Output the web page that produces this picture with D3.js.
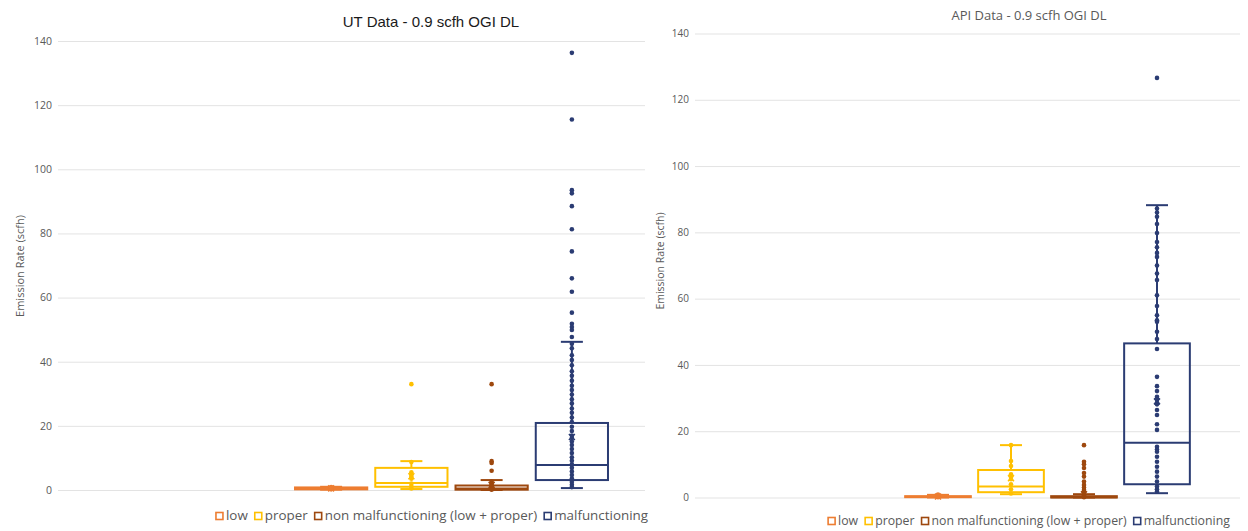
<!DOCTYPE html>
<html>
<head>
<meta charset="utf-8">
<script src="https://cdn.jsdelivr.net/npm/d3@7"></script>
<style>
  body { margin: 0; background: #fff; }
  svg { display: block; }
</style>
</head>
<body>
<svg id="chart" width="1248" height="531"></svg>
<script>
// box & whisker comparison, UT vs API, 0.9 scfh OGI detection limit

const categories = ['low', 'proper', 'non malfunctioning (low + proper)', 'malfunctioning'];
const yTicks = [0, 20, 40, 60, 80, 100, 120, 140];

// UT data (scfh)
const utWhiskerMin = [0.1, 0.3, 0.0, 0.6];
const utQ1 = [0.2, 1.0, 0.1, 3.1];
const utMedian = [0.4, 2.2, 0.5, 7.8];
const utQ3 = [0.8, 6.9, 1.4, 20.9];
const utWhiskerMax = [1.0, 9.0, 3.1, 46.2];
const utMean = [0.5, 4.3, 1.6, 16.5];
const utPointsLow = [0.2, 0.4, 0.6, 0.9];
const utPointsProper = [0.5, 1.2, 2.0, 3.5, 4.2, 4.8, 5.5, 8.7, 33.0];
const utPointsNonMalf = [0.1, 0.5, 1.0, 1.8, 2.6, 6.0, 8.4, 9.0, 33.0];
const utPointsMalf = [136.3, 115.5, 93.5, 92.5, 88.5, 81.3, 74.4, 66.0, 61.8, 55.3, 51.8, 50.8, 49.9,
  47.7, 45.6, 44.2, 42.0, 40.5, 38.9, 37.0, 35.6, 34.1, 32.5, 31.2, 29.8, 28.3, 27.0, 25.4, 24.1,
  22.6, 21.2, 19.7, 18.4, 17.0, 16.2, 15.1, 14.0, 12.8, 11.5, 10.2, 9.1, 8.0, 6.9, 5.8, 4.7, 3.6,
  2.5, 1.6, 0.9];

// API data (scfh)
const apiWhiskerMin = [0.0, 1.0, 0.0, 1.3];
const apiQ1 = [0.1, 1.6, 0.0, 4.0];
const apiMedian = [0.2, 3.3, 0.1, 16.5];
const apiQ3 = [0.4, 8.3, 0.4, 46.5];
const apiWhiskerMax = [0.8, 15.8, 1.0, 88.2];
const apiMean = [0.3, 5.8, 1.0, 29.0];
const apiPointsLow = [0.1, 0.3, 0.6, 0.9];
const apiPointsProper = [1.2, 2.5, 4.0, 5.5, 6.2, 7.0, 9.5, 11.0, 15.8];
const apiPointsNonMalf = [0.1, 0.4, 0.8, 1.5, 2.3, 3.0, 3.8, 4.8, 6.3, 7.4, 8.9, 10.0, 10.8, 15.8];
const apiPointsMalf = [126.6, 87.2, 86.0, 84.7, 82.5, 79.8, 77.1, 75.5, 73.8, 72.6, 70.0, 67.6, 65.6,
  61.0, 57.8, 55.0, 53.5, 53.0, 50.0, 47.8, 44.8, 36.4, 33.6, 32.1, 30.4, 29.6, 28.6, 28.1, 26.4,
  24.9, 22.1, 20.4, 15.3, 14.5, 13.8, 12.3, 10.8, 9.3, 7.8, 6.3, 4.8, 3.3, 2.5, 1.8];

const colors = ['#ED7D31', '#FFC000', '#9E480E', '#2B3C73'];
const gridColor = '#e3e3e3';
const textGray = '#595959';

const svg = d3.select('#chart');

function drawPanel(p) {
  const g = svg.append('g');

  const y = d3.scaleLinear().domain([0, 140]).range(p.yRange);
  const x = d3.scaleBand().domain(categories).range(p.bandRange).paddingInner(0.1).paddingOuter(0.05);

  // gridlines + tick labels
  const axis = g.append('g')
    .attr('transform', 'translate(' + p.gridX0 + ',0)')
    .call(d3.axisLeft(y).tickValues(yTicks).tickSize(-(p.gridX1 - p.gridX0)).tickPadding(6));
  axis.select('.domain').remove();
  axis.selectAll('line').attr('stroke', gridColor);
  axis.selectAll('text')
    .attr('fill', textGray)
    .style('font-family', 'Open Sans')
    .style('font-size', p.tickSize + 'px');

  // y axis title
  g.append('text')
    .attr('transform', 'translate(' + p.yLabelX + ',' + p.yLabelY + ') rotate(-90)')
    .attr('text-anchor', 'middle')
    .attr('fill', textGray)
    .style('font-family', 'Open Sans')
    .style('font-size', p.yLabelSize + 'px')
    .text('Emission Rate (scfh)');

  // chart title
  g.append('text')
    .attr('x', p.titleX).attr('y', p.titleY)
    .attr('text-anchor', 'middle')
    .attr('fill', p.titleColor)
    .style('font-family', p.titleFont)
    .style('font-size', p.titleSize + 'px')
    .text(p.title);

  const bw = x.bandwidth();
  const capW = 22;

  categories.forEach(function(cat, i) {
    const cx = x(cat) + bw / 2;
    const col = colors[i];
    const box = g.append('g');

    // whiskers
    box.append('line')
      .attr('x1', cx).attr('x2', cx)
      .attr('y1', y(p.q3[i])).attr('y2', y(p.wMax[i]))
      .attr('stroke', col).attr('stroke-width', 2);
    box.append('line')
      .attr('x1', cx).attr('x2', cx)
      .attr('y1', y(p.q1[i])).attr('y2', y(p.wMin[i]))
      .attr('stroke', col).attr('stroke-width', 2);
    [p.wMax[i], p.wMin[i]].forEach(function(v) {
      box.append('line')
        .attr('x1', cx - capW / 2).attr('x2', cx + capW / 2)
        .attr('y1', y(v)).attr('y2', y(v))
        .attr('stroke', col).attr('stroke-width', 2);
    });

    // box
    box.append('rect')
      .attr('x', x(cat)).attr('width', bw)
      .attr('y', y(p.q3[i]))
      .attr('height', Math.max(y(p.q1[i]) - y(p.q3[i]), 1))
      .attr('fill', 'none')
      .attr('stroke', col).attr('stroke-width', 2);
    box.append('line')
      .attr('x1', x(cat)).attr('x2', x(cat) + bw)
      .attr('y1', y(p.median[i])).attr('y2', y(p.median[i]))
      .attr('stroke', col).attr('stroke-width', 2);

    // inner points and outliers
    box.selectAll('circle')
      .data(p.points[i])
      .enter().append('circle')
      .attr('cx', cx)
      .attr('cy', function(d) { return y(d); })
      .attr('r', 2.3)
      .attr('fill', col);

    // mean marker
    const m = y(p.mean[i]), s = 3;
    box.append('path')
      .attr('d', 'M' + (cx - s) + ',' + (m - s) + 'L' + (cx + s) + ',' + (m + s) +
                 'M' + (cx - s) + ',' + (m + s) + 'L' + (cx + s) + ',' + (m - s))
      .attr('stroke', col).attr('stroke-width', 1.5);
  });

  // legend, centred under the panel
  const leg = g.append('g');
  let lx = 0;
  categories.forEach(function(cat, i) {
    leg.append('rect')
      .attr('x', lx).attr('y', -7.5)
      .attr('width', 7).attr('height', 7)
      .attr('fill', 'none')
      .attr('stroke', colors[i]).attr('stroke-width', 1.6);
    const t = leg.append('text')
      .attr('x', lx + 10).attr('y', 0)
      .attr('fill', textGray)
      .style('font-family', 'Open Sans')
      .style('font-size', p.legendSize + 'px')
      .text(cat);
    lx += 10 + t.node().getComputedTextLength() + 7;
  });
  const legW = lx - 7;
  leg.attr('transform', 'translate(' + (p.legendCX - legW / 2) + ',' + p.legendY + ')');
}

drawPanel({
  title: 'UT Data - 0.9 scfh OGI DL',
  titleX: 431, titleY: 27, titleFont: 'Liberation Sans', titleSize: 15, titleColor: '#1a1a1a',
  yRange: [490, 41], gridX0: 58, gridX1: 645, bandRange: [291, 612],
  tickSize: 10.5, yLabelX: 24, yLabelY: 266, yLabelSize: 11,
  legendCX: 432, legendY: 520, legendSize: 13.4,
  wMin: utWhiskerMin, q1: utQ1, median: utMedian, q3: utQ3, wMax: utWhiskerMax, mean: utMean,
  points: [utPointsLow, utPointsProper, utPointsNonMalf, utPointsMalf]
});

drawPanel({
  title: 'API Data - 0.9 scfh OGI DL',
  titleX: 1029, titleY: 20, titleFont: 'Open Sans', titleSize: 13, titleColor: textGray,
  yRange: [497.5, 33.5], gridX0: 695, gridX1: 1240, bandRange: [901.5, 1193.5],
  tickSize: 10, yLabelX: 664, yLabelY: 261, yLabelSize: 10.5,
  legendCX: 1029, legendY: 525, legendSize: 12.3,
  wMin: apiWhiskerMin, q1: apiQ1, median: apiMedian, q3: apiQ3, wMax: apiWhiskerMax, mean: apiMean,
  points: [apiPointsLow, apiPointsProper, apiPointsNonMalf, apiPointsMalf]
});
</script>
</body>
</html>
